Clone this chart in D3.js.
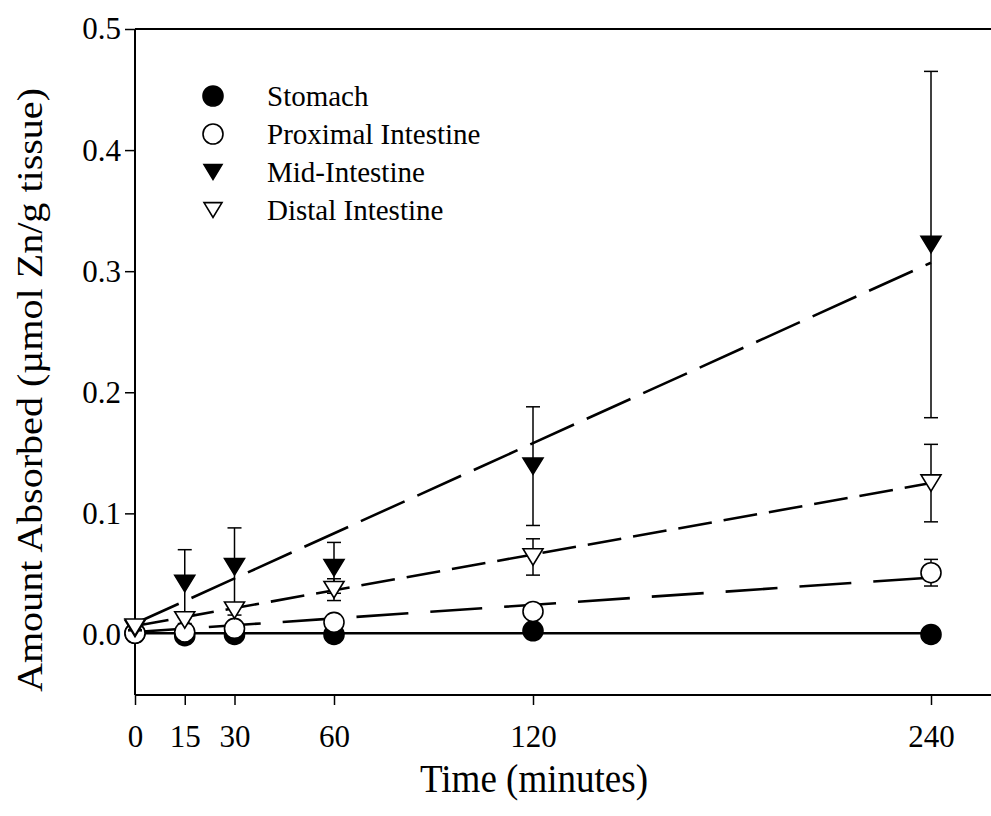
<!DOCTYPE html>
<html>
<head>
<meta charset="utf-8">
<script src="https://cdn.jsdelivr.net/npm/d3@7"></script>
<style>
  html, body { margin: 0; padding: 0; background: #fff; }
  svg { display: block; }
  text { font-family: "Liberation Serif", "Times New Roman", serif; fill: #000; }
</style>
</head>
<body>
<svg id="chart" width="991" height="816"></svg>
<script>
// ---- data ----
const times = [0, 15, 30, 60, 120, 240];
const xTickValues = [0, 15, 30, 60, 120, 240];
const yTickValues = [0.0, 0.1, 0.2, 0.3, 0.4, 0.5];
const seriesNames = ["Stomach", "Proximal Intestine", "Mid-Intestine", "Distal Intestine"];

const stomach    = [0.001, -0.001, 0.000, 0.000, 0.003, 0.000];
const stomachErr = [0.001, 0.001, 0.001, 0.001, 0.001, 0.001];
const proximal    = [0.001, 0.002, 0.005, 0.010, 0.019, 0.051];
const proximalErr = [0.001, 0.001, 0.002, 0.002, 0.004, 0.011];
const mid    = [0.005, 0.042, 0.056, 0.055, 0.139, 0.322];
const midErr = [0.002, 0.028, 0.032, 0.021, 0.049, 0.143];
const distal    = [0.006, 0.012, 0.020, 0.037, 0.064, 0.125];
const distalErr = [0.002, 0.003, 0.004, 0.009, 0.015, 0.032];

// fitted regression lines: value at t=0 and at t=240
const fitStart = [0.001, 0.002, 0.009, 0.007];
const fitEnd   = [0.001, 0.047, 0.307, 0.125];

// ---- layout ----
const svg = d3.select("#chart");
const x = d3.scaleLinear().domain([0, 240]).range([135, 931]);
const y = d3.scaleLinear().domain([-0.05, 0.5]).range([695, 29]);
const xRightEdge = 1000;

const seriesData = [
  { vals: stomach,  err: stomachErr,  shape: "circle",   fill: "#000", dash: null },
  { vals: proximal, err: proximalErr, shape: "circle",   fill: "#fff", dash: "52,22" },
  { vals: mid,      err: midErr,      shape: "triangle", fill: "#000", dash: "48,14" },
  { vals: distal,   err: distalErr,   shape: "triangle", fill: "#fff", dash: "34,12" }
];

function drawSymbol(g, shape, fill, cx, cy, size) {
  if (shape === "circle") {
    g.append("circle").attr("cx", cx).attr("cy", cy).attr("r", size / 2)
      .attr("fill", fill).attr("stroke", "#000").attr("stroke-width", 1.6);
  } else {
    const w = size, h = size * 0.82;
    const p = d3.path();
    p.moveTo(cx - w / 2, cy - h / 2);
    p.lineTo(cx + w / 2, cy - h / 2);
    p.lineTo(cx, cy + h / 2);
    p.closePath();
    g.append("path").attr("d", p.toString())
      .attr("fill", fill).attr("stroke", "#000").attr("stroke-width", 1.6)
      .attr("stroke-linejoin", "miter");
  }
}

// frame lines (top & bottom)
svg.append("line").attr("x1", x(0)).attr("x2", xRightEdge).attr("y1", y(0.5)).attr("y2", y(0.5))
  .attr("stroke", "#000").attr("stroke-width", 2);
svg.append("line").attr("x1", x(0)).attr("x2", xRightEdge).attr("y1", y(-0.05)).attr("y2", y(-0.05))
  .attr("stroke", "#000").attr("stroke-width", 2);

// axes
const yAxis = d3.axisLeft(y).tickValues(yTickValues).tickFormat(d3.format(".1f")).tickSize(10).tickPadding(4);
const gy = svg.append("g").attr("transform", `translate(${x(0)},0)`).call(yAxis);
gy.select(".domain").attr("stroke-width", 2).attr("d", `M0,${y(0.5)}V${y(-0.05)}`);
gy.selectAll(".tick line").attr("stroke-width", 1.5);
gy.selectAll(".tick text").style("font-size", "31px").style("font-family", "Liberation Serif");

const xAxis = d3.axisBottom(x).tickValues(xTickValues).tickFormat(d3.format("d")).tickSize(10).tickPadding(20);
const gx = svg.append("g").attr("transform", `translate(0,${y(-0.05)})`).call(xAxis);
gx.select(".domain").remove();
gx.selectAll(".tick line").attr("stroke-width", 1.5);
gx.selectAll(".tick text").style("font-size", "31px").style("font-family", "Liberation Serif");

// axis titles
svg.append("text").attr("x", 534).attr("y", 792).attr("text-anchor", "middle")
  .style("font-size", "39px").attr("textLength", 228).attr("lengthAdjust", "spacingAndGlyphs")
  .text("Time (minutes)");
svg.append("text").attr("transform", "translate(42,390) rotate(-90)").attr("text-anchor", "middle")
  .style("font-size", "36px").attr("textLength", 604).attr("lengthAdjust", "spacingAndGlyphs")
  .text("Amount Absorbed (\u00b5mol Zn/g tissue)");

// regression lines
const plot = svg.append("g");
seriesData.forEach((s, i) => {
  const ln = plot.append("line")
    .attr("x1", x(0)).attr("y1", y(fitStart[i]))
    .attr("x2", x(240)).attr("y2", y(fitEnd[i]))
    .attr("stroke", "#000").attr("stroke-width", i === 0 ? 2.5 : 2.6);
  if (s.dash) ln.attr("stroke-dasharray", s.dash);
});

// error bars and markers
seriesData.forEach((s) => {
  const g = plot.append("g");
  times.forEach((t, j) => {
    const cx = x(t);
    const hi = y(s.vals[j] + s.err[j]), lo = y(s.vals[j] - s.err[j]);
    g.append("line").attr("x1", cx).attr("x2", cx).attr("y1", hi).attr("y2", lo)
      .attr("stroke", "#000").attr("stroke-width", 1.5);
    [hi, lo].forEach(yy => g.append("line").attr("x1", cx - 7).attr("x2", cx + 7)
      .attr("y1", yy).attr("y2", yy).attr("stroke", "#000").attr("stroke-width", 1.5));
  });
  times.forEach((t, j) => drawSymbol(g, s.shape, s.fill, x(t), y(s.vals[j]), 20));
});

// legend
const legendY = [96, 134, 172, 210];
const legend = svg.append("g");
seriesNames.forEach((name, i) => {
  const s = seriesData[i];
  drawSymbol(legend, s.shape, s.fill, 213, legendY[i], s.shape === "circle" ? 20 : 18);
  legend.append("text").attr("x", 267).attr("y", legendY[i] + 10)
    .style("font-size", "29px").text(name);
});
</script>
</body>
</html>
